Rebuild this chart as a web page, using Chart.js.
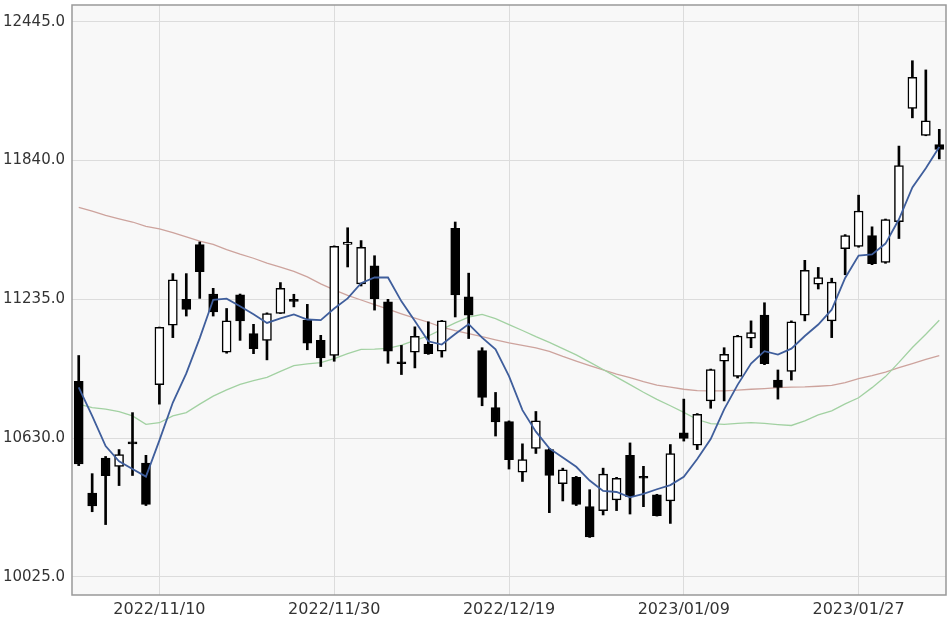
<!DOCTYPE html>
<html>
<head>
<meta charset="utf-8">
<script src="https://cdn.jsdelivr.net/npm/chart.js@4.4.0/dist/chart.umd.min.js"></script>
<style>
html,body{margin:0;padding:0;background:#fff;}
</style>
</head>
<body>
<canvas id="chart" width="949" height="617"></canvas>
<script>
// daily candles, 2022/11/02 - 2023/02/06
const dates=["2022/11/02","2022/11/03","2022/11/04","2022/11/07","2022/11/08","2022/11/09","2022/11/10","2022/11/11","2022/11/14","2022/11/15",
"2022/11/16","2022/11/17","2022/11/18","2022/11/21","2022/11/22","2022/11/23","2022/11/25","2022/11/28","2022/11/29","2022/11/30",
"2022/12/01","2022/12/02","2022/12/05","2022/12/06","2022/12/07","2022/12/08","2022/12/09","2022/12/12","2022/12/13","2022/12/14",
"2022/12/15","2022/12/16","2022/12/19","2022/12/20","2022/12/21","2022/12/22","2022/12/23","2022/12/27","2022/12/28","2022/12/29",
"2022/12/30","2023/01/03","2023/01/04","2023/01/05","2023/01/06","2023/01/09","2023/01/10","2023/01/11","2023/01/12","2023/01/13",
"2023/01/17","2023/01/18","2023/01/19","2023/01/20","2023/01/23","2023/01/24","2023/01/25","2023/01/26","2023/01/27","2023/01/30",
"2023/01/31","2023/02/01","2023/02/02","2023/02/03","2023/02/06"];

const openP=[10877,10390,10543,10507,10612,10521,10863,11122,11235,11474,
11258,11005,11254,11086,11056,11173,11232,11144,11056,10990,
11474,11302,11381,11224,10960,11005,11039,11009,11544,11246,
11012,10763,10702,10482,10585,10580,10431,10459,10331,10314,
10361,10555,10462,10383,10356,10653,10599,10792,10965,10899,
11066,11166,10883,10921,11166,11301,11141,11456,11466,11513,
11396,11573,12067,11950,11909];
const highP=[10990,10475,10550,10580,10741,10555,11114,11347,11347,11485,
11283,11195,11258,11126,11176,11308,11257,11213,11078,11468,
11547,11491,11425,11235,11034,11115,11137,11143,11572,11349,
11024,10829,10705,10605,10746,10585,10499,10463,10405,10499,
10459,10609,10507,10385,10602,10800,10737,10931,11024,11078,
11141,11220,10927,11141,11405,11374,11327,11517,11689,11551,
11585,11903,12275,12235,11976];
const lowP=[10510,10309,10253,10423,10467,10336,10778,11068,11162,11239,
11162,11000,11056,10998,10971,11173,11202,11015,10942,10965,
11376,11293,11188,10956,10907,10936,10995,10983,11158,11064,
10771,10639,10495,10441,10563,10305,10356,10336,10197,10295,
10314,10299,10331,10290,10258,10617,10580,10760,10792,10892,
11024,10950,10800,10883,11141,11280,11068,11342,11462,11386,
11392,11500,12026,11948,11847];
const closeP=[10517,10334,10466,10558,10605,10341,11113,11320,11191,11355,
11180,11141,11141,11020,11173,11283,11226,11044,10980,11466,
11484,11462,11238,11009,10954,11074,10998,11141,11254,11166,
10807,10700,10536,10536,10705,10467,10492,10341,10199,10473,
10455,10375,10455,10292,10563,10629,10734,10929,10995,11075,
11090,10954,10851,11137,11361,11330,11310,11513,11620,11390,
11583,11818,12203,12013,11888];

// moving averages
const ma5=[10851,10727,10595,10529,10495,10462,10620,10785,10912,11066,
11233,11238,11205,11170,11132,11152,11169,11147,11144,11195,
11239,11305,11330,11330,11226,11140,11052,11038,11084,11127,
11068,11017,10900,10752,10658,10585,10545,10505,10445,10400,
10395,10372,10387,10407,10425,10461,10539,10626,10755,10862,
10955,11009,10994,11020,11075,11125,11190,11328,11426,11431,
11478,11584,11723,11806,11899];
const ma25=[10778,10763,10756,10745,10727,10690,10697,10727,10741,10778,
10813,10840,10864,10880,10895,10921,10946,10954,10959,10976,
10998,11017,11018,11021,11035,11056,11075,11104,11132,11157,
11169,11151,11125,11099,11072,11047,11020,10993,10961,10929,
10896,10863,10830,10799,10771,10742,10711,10693,10690,10694,
10697,10694,10689,10685,10705,10731,10749,10779,10806,10850,
10898,10960,11025,11083,11144];
const ma75=[11636,11619,11601,11586,11572,11553,11542,11526,11507,11489,
11474,11452,11432,11414,11393,11375,11357,11333,11302,11276,
11252,11232,11212,11192,11172,11153,11135,11114,11098,11085,
11072,11058,11045,11034,11023,11008,10986,10966,10946,10927,
10909,10894,10876,10861,10852,10843,10837,10836,10836,10839,
10843,10846,10850,10852,10853,10856,10860,10872,10889,10902,
10918,10937,10955,10973,10990];

const tickDates=["2022/11/10","2022/11/30","2022/12/19","2023/01/09","2023/01/27"];
const yTicks=[10025,10630,11235,11840,12445];
const yMin=9946,yMax=12518;

const wicks=lowP.map((l,i)=>[l,highP[i]]);
const bodies=openP.map((o,i)=>[o,closeP[i]]);
const bodyColors=closeP.map((c,i)=>c<openP[i]?"#000":"#fff");

const frame={
id:"frame",
beforeDraw(c){
const a=c.chartArea,ctx=c.ctx;
ctx.save();
ctx.fillStyle="#f8f8f8";
ctx.fillRect(a.left,a.top,a.right-a.left,a.bottom-a.top);
ctx.restore();
},
afterDraw(c){
const a=c.chartArea,ctx=c.ctx;
ctx.save();
ctx.strokeStyle="#999";
ctx.lineWidth=1.5;
ctx.strokeRect(a.left,a.top,a.right-a.left,a.bottom-a.top);
ctx.restore();
}
};

Chart.defaults.font.family="'DejaVu Sans', sans-serif";

const ctx=document.getElementById("chart").getContext("2d");
new Chart(ctx,{
type:"bar",
data:{
labels:dates,
datasets:[
{type:"line",data:ma5,borderColor:"#3f5e9c",borderWidth:1.8,pointRadius:0,tension:0,order:0},
{type:"line",data:ma25,borderColor:"#a2d1a2",borderWidth:1.3,pointRadius:0,tension:0,order:3},
{type:"line",data:ma75,borderColor:"#cda39d",borderWidth:1.3,pointRadius:0,tension:0,order:3},
{data:bodies,backgroundColor:bodyColors,borderColor:"#000",borderWidth:1.5,borderSkipped:false,
 barThickness:9,minBarLength:2,grouped:false,order:1},
{data:wicks,backgroundColor:"#000",barThickness:2,grouped:false,order:2}
]
},
options:{
responsive:false,
animation:false,
devicePixelRatio:1,
layout:{padding:{top:5,right:3,left:0,bottom:0}},
plugins:{legend:{display:false},tooltip:{enabled:false}},
scales:{
x:{
offset:true,
grid:{offset:false,color:"#dcdcdc",drawTicks:false},
border:{display:false},
ticks:{autoSkip:false,maxRotation:0,minRotation:0,padding:5,color:"#333",font:{size:16}},
afterBuildTicks(s){s.ticks=tickDates.map(d=>({value:dates.indexOf(d)}));},
afterFit(s){s.height=22;s.paddingLeft=0;s.paddingRight=0;}
},
y:{
min:yMin,max:yMax,
grid:{color:"#dcdcdc",drawTicks:false},
border:{display:false},
ticks:{padding:7,color:"#333",font:{size:15},callback:v=>v.toFixed(1)},
afterBuildTicks(s){s.ticks=yTicks.map(v=>({value:v}));},
afterFit(s){s.width=72;s.paddingTop=0;s.paddingBottom=0;}
}
}
},
plugins:[frame]
});
</script>
</body>
</html>
